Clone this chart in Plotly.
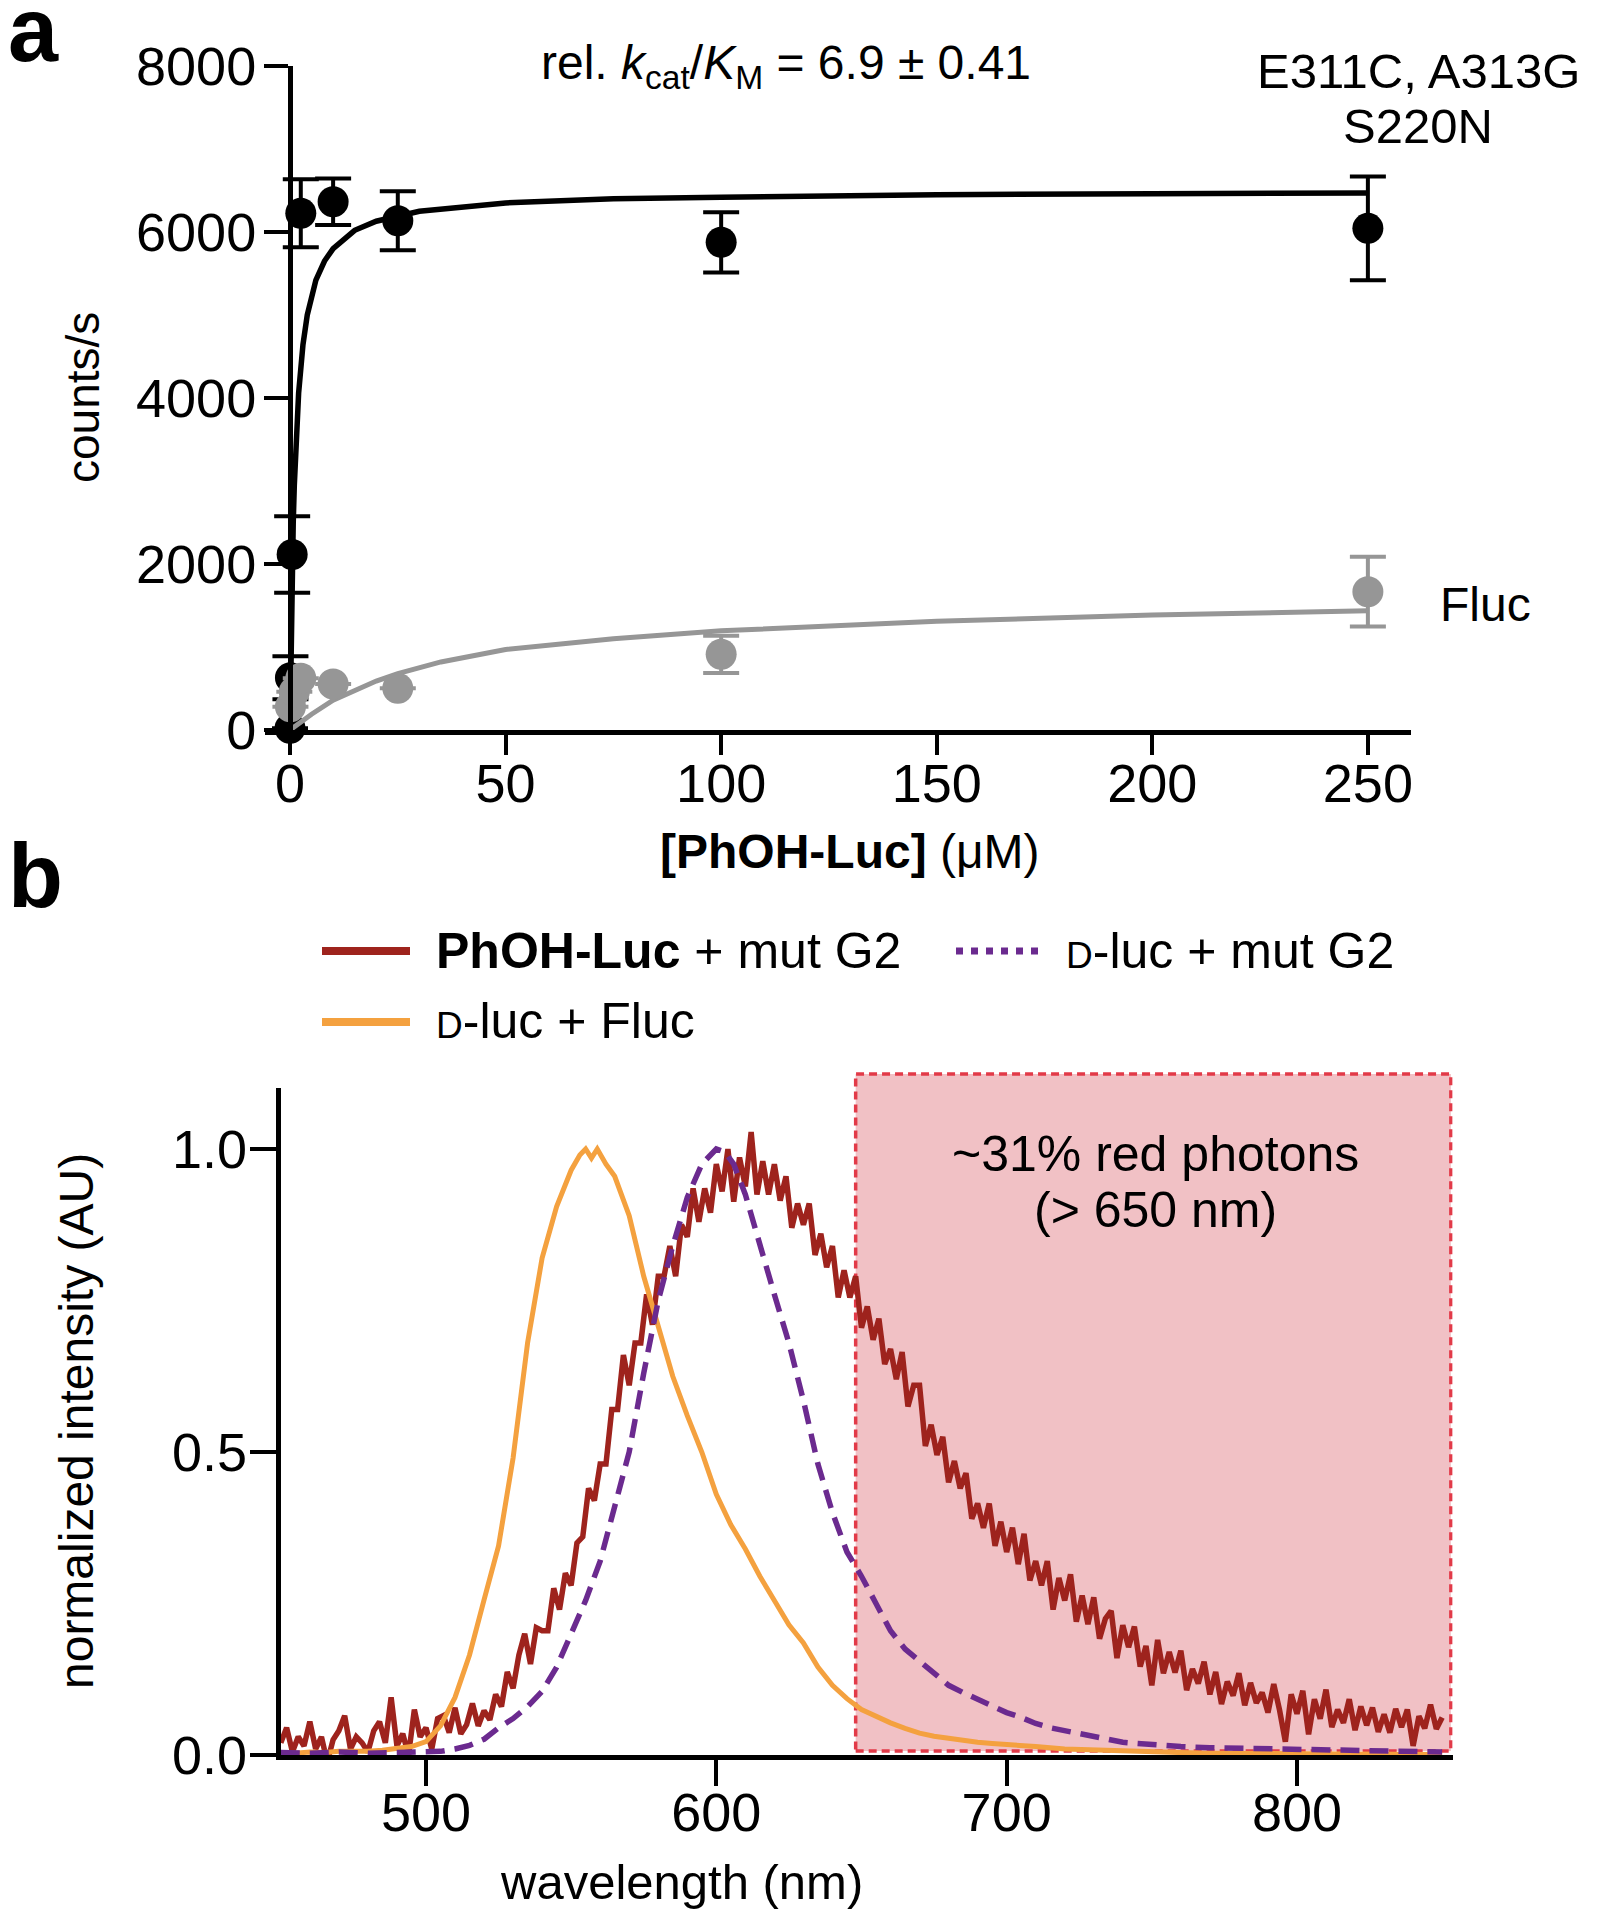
import plotly.graph_objects as go

# page body has an 8px margin: the figure is sized to fit inside it
OFF = 8
FW, FH = 1597 - 2 * OFF, 1920 - 2 * OFF
def px(x):
    return (x - OFF) / FW
def py(y):
    return 1 - (y - OFF) / FH

FONT = "Liberation Sans, Arial, Helvetica, sans-serif"

# ---------------- panel a data ----------------
conc_mut = [0, 0.1, 0.5, 2.5, 10, 25, 100, 250]
counts_mut = [20, 630, 2115, 6225, 6365, 6136, 5876, 6044]
err_mut = [None, 260, 460, 410, 280, 355, 363, 625]

conc_fluc = [0.1, 1, 2.5, 10, 25, 100, 250]
counts_fluc = [281, 461, 623, 554, 502, 912, 1666]
err_fluc = [None, None, None, None, None, 225, 420]

fit_mut_x = [0, 0.1, 0.25, 0.5, 0.75, 1, 1.5, 2, 3, 4, 6, 8, 10, 15, 20, 30, 50, 75, 100, 150, 200, 250]
fit_mut_y = [0, 500, 1120, 1910, 2500, 2950, 3610, 4060, 4640, 5000, 5420, 5650, 5800, 6020,
             6130, 6250, 6350, 6400, 6420, 6450, 6460, 6470]

fit_fluc_x = [0, 2, 5, 10, 15, 20, 25, 35, 50, 75, 100, 125, 150, 200, 250]
fit_fluc_y = [0, 80, 190, 360, 480, 590, 680, 820, 970, 1100, 1195, 1260, 1310, 1385, 1437]

a_xticks = [0, 50, 100, 150, 200, 250]
a_yticks = [0, 2000, 4000, 6000, 8000]

# ---------------- panel b data ----------------
wl_orange = [450, 455, 460, 465, 470, 475, 480, 485, 490, 495, 500, 505, 510, 515, 520, 525, 530,
             535, 540, 545, 550, 553, 555, 557, 559, 562, 565, 570, 575, 580, 585, 590, 595, 600,
             605, 610, 615, 620, 625, 630, 635, 640, 645, 650, 655, 660, 665, 670, 675, 680, 685,
             690, 695, 700, 710, 720, 730, 740, 750, 760, 770, 780, 790, 800, 810, 820, 830, 840, 850]
int_orange = [0.004, 0.003, 0.005, 0.004, 0.006, 0.005, 0.006, 0.008, 0.010, 0.014, 0.022, 0.048,
              0.095, 0.165, 0.256, 0.345, 0.490, 0.680, 0.820, 0.905, 0.965, 0.990, 1.000, 0.985,
              1.000, 0.975, 0.955, 0.890, 0.790, 0.710, 0.625, 0.560, 0.500, 0.430, 0.380, 0.340,
              0.295, 0.255, 0.215, 0.185, 0.145, 0.115, 0.093, 0.075, 0.063, 0.053, 0.044, 0.036,
              0.031, 0.027, 0.024, 0.021, 0.019, 0.018, 0.014, 0.010, 0.008, 0.006, 0.005, 0.004,
              0.003, 0.003, 0.002, 0.002, 0.001, 0.001, 0.001, 0.001, 0.001]

wl_purple = [450, 460, 470, 480, 490, 500, 505, 510, 515, 520, 525, 530, 535, 540, 545, 550, 555,
             560, 565, 570, 575, 580, 585, 590, 595, 600, 603, 606, 610, 615, 620, 625, 630, 635,
             640, 645, 650, 655, 660, 665, 670, 675, 680, 685, 690, 695, 700, 705, 710, 715, 720,
             725, 730, 735, 740, 745, 750, 760, 770, 780, 790, 800, 810, 820, 830, 840, 850]
int_purple = [0.004, 0.003, 0.005, 0.003, 0.004, 0.005, 0.006, 0.010, 0.016, 0.026, 0.045, 0.060,
              0.080, 0.105, 0.145, 0.200, 0.255, 0.320, 0.410, 0.500, 0.630, 0.750, 0.840, 0.920,
              0.975, 1.000, 0.995, 0.975, 0.925, 0.840, 0.760, 0.680, 0.585, 0.480, 0.400, 0.335,
              0.295, 0.250, 0.205, 0.175, 0.155, 0.135, 0.115, 0.103, 0.092, 0.083, 0.070, 0.062,
              0.052, 0.045, 0.040, 0.036, 0.031, 0.026, 0.021, 0.019, 0.017, 0.014, 0.012, 0.011,
              0.010, 0.009, 0.008, 0.007, 0.006, 0.006, 0.005]

wl_red = list(range(450, 851, 2))
int_red = [
    # 450-504
    0.02, 0.045, 0.005, 0.03, 0.015, 0.055, 0.01, 0.03, -0.012, 0.025,
    0.04, 0.065, 0.01, 0.03, 0.02, 0.005, 0.04, 0.055, 0.02, 0.095,
    0.015, 0.035, 0.0, 0.075, 0.03, 0.045, 0.01, 0.06,
    # 506-560
    0.065, 0.037, 0.078, 0.035, 0.05, 0.085, 0.048, 0.073, 0.058, 0.10,
    0.08, 0.137, 0.11, 0.165, 0.20, 0.15, 0.21, 0.205, 0.205, 0.275,
    0.24, 0.30, 0.28, 0.35, 0.36, 0.44, 0.42, 0.48,
    # 562-620
    0.48, 0.57, 0.57, 0.66, 0.61, 0.68, 0.68, 0.76, 0.71, 0.79,
    0.79, 0.84, 0.79, 0.875, 0.855, 0.935, 0.88, 0.935, 0.895, 0.975,
    0.93, 1.0, 0.913, 0.986, 0.938, 1.028, 0.925, 0.98, 0.925, 0.975,
    # 622-700
    0.915, 0.955, 0.87, 0.91, 0.875, 0.91, 0.825, 0.86, 0.805, 0.84,
    0.755, 0.80, 0.755, 0.79, 0.705, 0.74, 0.685, 0.72, 0.645, 0.67,
    0.62, 0.665, 0.575, 0.61, 0.61, 0.51, 0.545, 0.495, 0.525, 0.45,
    0.485, 0.44, 0.465, 0.39, 0.415, 0.375, 0.415, 0.345, 0.385, 0.335,
    # 702-850
    0.375, 0.315, 0.365, 0.288, 0.32, 0.28, 0.32, 0.24, 0.292, 0.255,
    0.298, 0.22, 0.263, 0.216, 0.26, 0.192, 0.225, 0.238, 0.16, 0.214,
    0.178, 0.212, 0.146, 0.18, 0.115, 0.19, 0.135, 0.17, 0.136, 0.172,
    0.107, 0.142, 0.118, 0.154, 0.10, 0.137, 0.084, 0.121, 0.098, 0.135,
    0.082, 0.119, 0.086, 0.103, 0.07, 0.117, 0.074, 0.022, 0.10, 0.068,
    0.106, 0.034, 0.092, 0.06, 0.108, 0.046, 0.075, 0.053, 0.092, 0.041,
    0.08, 0.049, 0.078, 0.038, 0.067, 0.037, 0.076, 0.046, 0.075, 0.015,
    0.064, 0.044, 0.083, 0.043, 0.062,
]

b_xticks = [500, 600, 700, 800]
b_yticks = [0.0, 0.5, 1.0]
b_yticktext = ["0.0", "0.5", "1.0"]

RED = "#9E231D"
ORANGE = "#F4A13F"
PURPLE = "#6B2A8F"
GREY = "#969696"

fig = go.Figure()

# panel a
fig.add_trace(go.Scatter(x=fit_mut_x, y=fit_mut_y, mode="lines", line=dict(color="black", width=5.5),
                         xaxis="x", yaxis="y", cliponaxis=False, showlegend=False, hoverinfo="skip"))
fig.add_trace(go.Scatter(x=conc_mut, y=counts_mut, mode="markers",
                         marker=dict(color="black", size=31),
                         error_y=dict(type="data", array=err_mut, color="black", thickness=4, width=18),
                         xaxis="x", yaxis="y", cliponaxis=False, showlegend=False))
fig.add_trace(go.Scatter(x=fit_fluc_x, y=fit_fluc_y, mode="lines", line=dict(color=GREY, width=5),
                         xaxis="x", yaxis="y", cliponaxis=False, showlegend=False, hoverinfo="skip"))
fig.add_trace(go.Scatter(x=conc_fluc, y=counts_fluc, mode="markers",
                         marker=dict(color=GREY, size=31),
                         error_y=dict(type="data", array=err_fluc, color=GREY, thickness=4, width=18),
                         xaxis="x", yaxis="y", cliponaxis=False, showlegend=False))

# panel b
fig.add_trace(go.Scatter(x=wl_red, y=int_red, mode="lines", line=dict(color=RED, width=5.5),
                         xaxis="x2", yaxis="y2", cliponaxis=False, showlegend=False))
fig.add_trace(go.Scatter(x=wl_orange, y=int_orange, mode="lines", line=dict(color=ORANGE, width=5),
                         xaxis="x2", yaxis="y2", cliponaxis=False, showlegend=False))
fig.add_trace(go.Scatter(x=wl_purple, y=int_purple, mode="lines",
                         line=dict(color=PURPLE, width=5.5, dash="19px,10px"),
                         xaxis="x2", yaxis="y2", cliponaxis=False, showlegend=False))

axis_common = dict(showline=True, linewidth=5, linecolor="black", ticks="outside",
                   tickwidth=4, tickcolor="black", showgrid=False, zeroline=False,
                   automargin=False, tickfont=dict(family=FONT, size=54, color="black"))

fig.update_layout(
    width=FW, height=FH,
    margin=dict(l=0, r=0, t=0, b=0),
    paper_bgcolor="white", plot_bgcolor="rgba(0,0,0,0)",
    font=dict(family=FONT, color="black"),
    xaxis=dict(domain=[px(265), px(1411)], range=[-5.8, 260], anchor="y",
               tickvals=a_xticks, ticklen=20, ticklabelstandoff=-18, **axis_common),
    yaxis=dict(domain=[py(730), py(66)], range=[0, 8000], anchor="free", position=px(290),
               tickvals=a_yticks, ticklen=24, ticklabelstandoff=-3, **axis_common),
    xaxis2=dict(domain=[px(280.8), px(1452.6)], range=[450, 853.6], anchor="y2",
                tickvals=b_xticks, ticklen=26, ticklabelstandoff=-20, **axis_common),
    yaxis2=dict(domain=[py(1755), py(1088.4)], range=[0, 1.1], anchor="x2",
                tickvals=b_yticks, ticktext=b_yticktext, ticklen=26, ticklabelstandoff=-8,
                **axis_common),
)

shapes = [
    dict(type="rect", xref="x2", yref="paper", x0=648, x1=853, y0=py(1751), y1=py(1074),
         fillcolor="#F1C1C5", line=dict(color="#E23A48", width=3.5, dash="8px,5px"), layer="below"),
    # legend samples
    dict(type="line", xref="paper", yref="paper", x0=px(322), x1=px(410), y0=py(951), y1=py(951),
         line=dict(color=RED, width=8)),
    dict(type="line", xref="paper", yref="paper", x0=px(322), x1=px(410), y0=py(1022), y1=py(1022),
         line=dict(color=ORANGE, width=8)),
    dict(type="line", xref="paper", yref="paper", x0=px(956), x1=px(1041), y0=py(951), y1=py(951),
         line=dict(color=PURPLE, width=7, dash="7px,8px")),
]
fig.update_layout(shapes=shapes)

def ann(text, x, y, size, xanchor="center", yanchor="middle", angle=0):
    return dict(text=text, x=px(x), y=py(y), xref="paper", yref="paper", showarrow=False,
                xanchor=xanchor, yanchor=yanchor, textangle=angle,
                font=dict(family=FONT, size=size, color="black"))

SC = "<span style='font-size:37px'>D</span>"
annotations = [
    ann("<b>a</b>", 6, 30, 90, xanchor="left"),
    ann("<b>b</b>", 6, 876, 90, xanchor="left"),
    ann("rel. <i>k</i><sub>cat</sub>/<i>K</i><sub>M</sub> = 6.9 ± 0.41", 786, 66, 48),
    ann("E311C, A313G", 1418, 71, 49),
    ann("S220N", 1418, 126, 49),
    ann("Fluc", 1438, 604, 48, xanchor="left"),
    ann("counts/s", 83, 398, 46, angle=-90),
    ann("<b>[PhOH-Luc]</b> (μM)", 850, 851, 48),
    ann("<b>PhOH-Luc</b> + mut G2", 434, 951, 50, xanchor="left"),
    ann(SC + "-luc + Fluc", 434, 1021, 50, xanchor="left"),
    ann(SC + "-luc + mut G2", 1064, 951, 50, xanchor="left"),
    ann("~31% red photons", 1155, 1154, 50),
    ann("(&gt; 650 nm)", 1155, 1210, 50),
    ann("normalized intensity (AU)", 76, 1421, 48, angle=-90),
    ann("wavelength (nm)", 681, 1882, 49),
]
fig.update_layout(annotations=annotations)

fig.write_html("out.html")
